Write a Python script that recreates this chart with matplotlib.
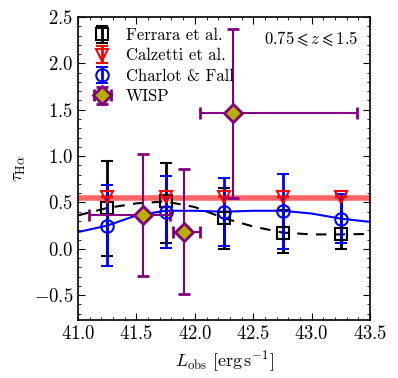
import numpy as np
import matplotlib
matplotlib.use("Agg")
from matplotlib import pyplot as plt

plt.rcParams["font.family"] = "serif"
plt.rcParams["font.serif"] = ["cmr10"]
plt.rcParams["mathtext.fontset"] = "cm"
plt.rcParams["axes.formatter.use_mathtext"] = True
plt.rcParams["axes.unicode_minus"] = True

# binned luminosities
lum_x = [41.25, 41.75, 42.25, 42.75, 43.25]

ferrara_y = [0.44, 0.51, 0.33, 0.17, 0.155]
ferrara_lo = [0.52, 0.45, 0.33, 0.22, 0.155]
ferrara_hi = [0.51, 0.42, 0.33, 0.25, 0.40]

calzetti_y = [0.56, 0.56, 0.56, 0.56, 0.56]

charlot_y = [0.25, 0.40, 0.40, 0.41, 0.325]
charlot_lo = [0.435, 0.39, 0.37, 0.41, 0.265]
charlot_hi = [0.44, 0.39, 0.36, 0.40, 0.27]

# model curves
curve_x = [41.0, 41.25, 41.5, 41.75, 42.0, 42.25, 42.5, 42.75, 43.0, 43.25, 43.5]
ferrara_curve = [0.36, 0.44, 0.49, 0.51, 0.45, 0.33, 0.24, 0.175, 0.155, 0.155, 0.16]
charlot_curve = [0.18, 0.25, 0.36, 0.41, 0.41, 0.40, 0.41, 0.41, 0.38, 0.325, 0.29]
calzetti_level = 0.55

# WISP points
wisp_x = [41.56, 41.91, 42.33]
wisp_y = [0.365, 0.185, 1.465]
wisp_xlo = [0.47, 0.10, 0.29]
wisp_xhi = [0.23, 0.13, 1.06]
wisp_ylo = [0.655, 0.675, 0.915]
wisp_yhi = [0.655, 0.675, 0.905]

fig = plt.figure(figsize=(3.98, 3.78), dpi=100)
ax = fig.add_axes([0.196, 0.153, 0.734, 0.802])

ax.axhline(calzetti_level, color="red", lw=4, alpha=0.6, zorder=1)
ax.plot(curve_x, ferrara_curve, color="black", ls="--", lw=1.5, dashes=(5, 4), zorder=2)
ax.plot(curve_x, charlot_curve, color="blue", lw=1.5, zorder=2)

ax.errorbar(lum_x, ferrara_y, yerr=[ferrara_lo, ferrara_hi], fmt="s", ms=9,
            mfc="none", mec="black", mew=1.5, ecolor="black", elinewidth=2,
            capsize=4, capthick=2, label="Ferrara et al.", zorder=3)
ax.errorbar(lum_x, calzetti_y, yerr=[[0] * 5, [0] * 5], fmt="v", ms=9,
            mfc="none", mec="red", mew=1.5, ecolor="red", elinewidth=2,
            capsize=4, capthick=2, label="Calzetti et al.", zorder=4)
ax.errorbar(lum_x, charlot_y, yerr=[charlot_lo, charlot_hi], fmt="o", ms=9,
            mfc="none", mec="blue", mew=1.5, ecolor="blue", elinewidth=2,
            capsize=4, capthick=2, label="Charlot & Fall", zorder=3)
ax.errorbar(wisp_x, wisp_y, xerr=[wisp_xlo, wisp_xhi], yerr=[wisp_ylo, wisp_yhi],
            fmt="D", ms=9, mfc="#b5b000", mec="purple", mew=2, ecolor="purple",
            elinewidth=1.5, capsize=4, capthick=2, label="WISP", zorder=5)

ax.set_xlim(41.0, 43.5)
ax.set_ylim(-0.77, 2.5)
ax.set_xticks([41.0, 41.5, 42.0, 42.5, 43.0, 43.5])
ax.set_yticks([-0.5, 0.0, 0.5, 1.0, 1.5, 2.0, 2.5])
ax.yaxis.set_major_formatter(matplotlib.ticker.FormatStrFormatter("$%.1f$"))
ax.xaxis.set_major_formatter(matplotlib.ticker.FormatStrFormatter("$%.1f$"))
ax.minorticks_on()
ax.tick_params(which="both", direction="in", top=True, right=True, labelsize=13.5)
ax.tick_params(which="major", length=5)
ax.tick_params(which="minor", length=2.5)
for s in ax.spines.values():
    s.set_linewidth(1.2)

ax.set_xlabel(r"$L_{\rm obs}\ [{\rm erg\,s^{-1}}]$", fontsize=13)
ax.set_ylabel(r"$\tau_{\rm H\alpha}$", fontsize=13)
ax.text(0.96, 0.93, r"$0.75\leqslant z\leqslant 1.5$", transform=ax.transAxes,
        ha="right", va="center", fontsize=12)

ax.legend(loc="upper left", frameon=False, numpoints=1, fontsize=12,
          handlelength=1.6, handletextpad=0.6, borderpad=0.4,
          borderaxespad=0.25, labelspacing=0.3)

fig.savefig("out.png", dpi=100)
